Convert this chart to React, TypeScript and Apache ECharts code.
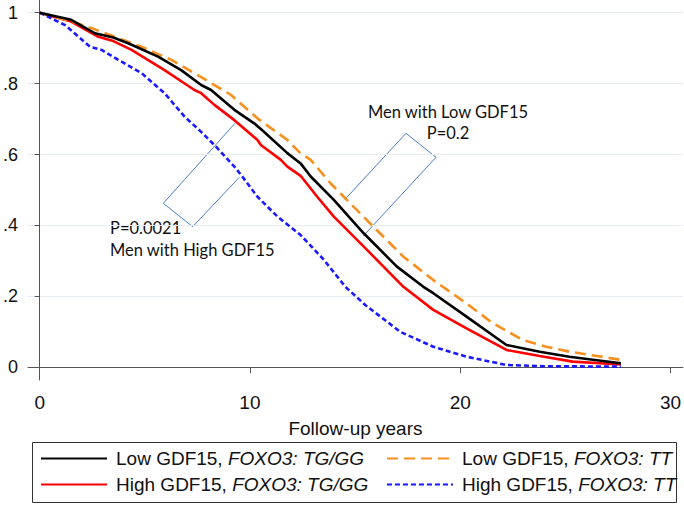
import React, { useEffect, useRef } from "react";
import * as echarts from "echarts";

// Follow-up years (x) and survival probability (y)
const blackT = [0, 1.5, 2.63, 3.5, 4.21, 5.63, 6.73, 7.68, 8.15, 9.26, 10.2, 10.52, 11.78, 12.41, 12.89, 13.99, 15.41, 16.99, 18.25, 18.72, 20.3, 22.2, 23.78, 25.19, 26.5, 27.64];
const blackS = [1, 0.98, 0.942, 0.93, 0.914, 0.876, 0.838, 0.796, 0.782, 0.726, 0.688, 0.672, 0.604, 0.575, 0.538, 0.472, 0.378, 0.284, 0.227, 0.209, 0.143, 0.063, 0.044, 0.03, 0.02, 0.011];

const redT = [0, 1.5, 2.79, 3.5, 4.37, 5.94, 7.36, 7.68, 8.31, 9.26, 10.36, 10.52, 11.47, 11.78, 12.41, 13.2, 13.99, 15.57, 17.3, 18.72, 20.3, 22.2, 23.78, 25.35, 27.64];
const redS = [1, 0.975, 0.932, 0.92, 0.895, 0.838, 0.782, 0.773, 0.74, 0.697, 0.641, 0.627, 0.585, 0.566, 0.54, 0.481, 0.425, 0.331, 0.227, 0.162, 0.11, 0.049, 0.032, 0.016, 0.008];

const orangeT = [0, 1.53, 2.48, 3.58, 4.84, 6.26, 7.52, 9.1, 10.36, 11.78, 12.41, 12.89, 13.83, 14.46, 15.88, 17.3, 18.72, 20.3, 21.56, 22.98, 24.09, 25.19, 26.5, 27.64];
const orangeS = [1, 0.975, 0.956, 0.932, 0.904, 0.867, 0.824, 0.768, 0.702, 0.641, 0.603, 0.585, 0.519, 0.481, 0.396, 0.312, 0.246, 0.18, 0.124, 0.077, 0.058, 0.044, 0.032, 0.021];

const blueT = [0, 1.21, 2.39, 2.95, 3.74, 4.86, 5.94, 6.89, 7.68, 8.39, 9.26, 9.57, 10.36, 11.31, 12.41, 13.52, 14.54, 15.5, 17.15, 18.72, 20.3, 22.2, 24, 27.64];
const blueS = [1, 0.965, 0.904, 0.895, 0.867, 0.829, 0.773, 0.707, 0.664, 0.622, 0.566, 0.543, 0.481, 0.425, 0.373, 0.303, 0.227, 0.175, 0.1, 0.058, 0.03, 0.0065, 0.003, 0.002];

const seriesNames = [
  "Low GDF15, FOXO3: TG/GG",
  "High GDF15, FOXO3: TG/GG",
  "Low GDF15, FOXO3: TT",
  "High GDF15, FOXO3: TT",
];

const xTicks = [0, 10, 20, 30];
const yTicks = [0, 0.2, 0.4, 0.6, 0.8, 1];
const xTitle = "Follow-up years";

const annotLeft = ["P=0.0021", "Men with High GDF15"];
const annotRight = ["Men with Low GDF15", "P=0.2"];

const zip = (t: number[], s: number[]) => t.map((v, i) => [v, s[i]]);

const AXIS_FONT = "'Liberation Sans', Arial, sans-serif";
const NOTE_FONT = "Lato, 'Open Sans', sans-serif";

export default function App() {
  const ref = useRef<HTMLDivElement>(null);
  useEffect(() => {
    if (!ref.current) return;
    const chart = echarts.init(ref.current, undefined, { renderer: "svg" });
    const legendFmt = (name: string) => {
      const idx = name.indexOf(", ");
      return `{n|${name.slice(0, idx + 2)}}{i|${name.slice(idx + 2)}}`;
    };
    const legendText = {
      color: "#111",
      rich: {
        n: { fontSize: 19, lineHeight: 20, fontFamily: AXIS_FONT, color: "#111", padding: [0, 0, 0, 4] },
        i: { fontSize: 19, lineHeight: 20, fontFamily: AXIS_FONT, fontStyle: "italic", color: "#111" },
      },
    };
    const legendBase = {
      orient: "vertical",
      top: 449,
      height: 56,
      padding: 0,
      itemWidth: 66,
      itemHeight: 14,
      itemGap: 7,
      formatter: legendFmt,
      textStyle: legendText,
      itemStyle: { opacity: 0 },
    };
    const calloutStyle = { stroke: "#4a7fc1", lineWidth: 1, fill: null };
    chart.setOption({
      animation: false,
      backgroundColor: "#ffffff",
      grid: { left: 26, right: 0, top: 0, bottom: 125, containLabel: false },
      xAxis: {
        type: "value",
        min: -0.554,
        max: 30.59,
        name: xTitle,
        nameLocation: "middle",
        nameGap: 39,
        nameTextStyle: { fontSize: 19, fontFamily: AXIS_FONT, color: "#111" },
        axisLine: { show: true, lineStyle: { color: "#555", width: 1 } },
        axisTick: { show: true, customValues: xTicks, length: 6, lineStyle: { color: "#555" } },
        axisLabel: { customValues: xTicks, fontSize: 19, fontFamily: AXIS_FONT, color: "#111", margin: 13 },
        splitLine: { show: false },
      },
      yAxis: {
        type: "value",
        min: -0.0358,
        max: 1.0358,
        axisLine: { show: true, lineStyle: { color: "#555", width: 1 } },
        axisTick: { show: true, customValues: yTicks, length: 5, lineStyle: { color: "#555" } },
        axisLabel: {
          customValues: yTicks,
          fontSize: 18,
          fontFamily: AXIS_FONT,
          color: "#111",
          margin: 10,
          formatter: (v: number) => (v === 0 ? "0" : v === 1 ? "1" : String(Math.round(v * 10) / 10).replace("0.", ".")),
        },
        splitLine: { show: true, lineStyle: { color: "#e6edf2", width: 1 } },
      },
      legend: [
        { ...legendBase, left: 40, data: [seriesNames[0], seriesNames[1]] },
        { ...legendBase, left: 386, data: [seriesNames[2], seriesNames[3]] },
      ],
      graphic: [
        { type: "rect", shape: { x: 32.5, y: 442.5, width: 644, height: 60 }, style: { stroke: "#333", lineWidth: 1, fill: null }, silent: true },
        { type: "polyline", shape: { points: [[235, 123.3], [163.3, 203.3], [192.7, 226.7], [239.3, 177.3]] }, style: calloutStyle, silent: true },
        { type: "polyline", shape: { points: [[345, 199.3], [406, 133.3], [436, 157.3], [363.3, 236]] }, style: calloutStyle, silent: true },
        { type: "text", x: 110, y: 236.7, style: { text: annotLeft[0], font: `16.5px ${NOTE_FONT}`, fill: "#111", textVerticalAlign: "bottom" } as any },
        { type: "text", x: 110, y: 258.3, style: { text: annotLeft[1], font: `16.5px ${NOTE_FONT}`, fill: "#111", textVerticalAlign: "bottom" } as any },
        { type: "text", x: 448, y: 120, style: { text: annotRight[0], font: `16.5px ${NOTE_FONT}`, fill: "#111", textAlign: "center", textVerticalAlign: "bottom" } as any },
        { type: "text", x: 448, y: 141, style: { text: annotRight[1], font: `16.5px ${NOTE_FONT}`, fill: "#111", textAlign: "center", textVerticalAlign: "bottom" } as any },
      ],
      series: [
        {
          name: seriesNames[0], type: "line", data: zip(blackT, blackS), symbol: "none", z: 4,
          lineStyle: { color: "#000000", width: 2.6 }, itemStyle: { color: "#000000" },
        },
        {
          name: seriesNames[1], type: "line", data: zip(redT, redS), symbol: "none", z: 3,
          lineStyle: { color: "#ff0000", width: 2.6 }, itemStyle: { color: "#ff0000" },
        },
        {
          name: seriesNames[2], type: "line", data: zip(orangeT, orangeS), symbol: "none", z: 3,
          lineStyle: { color: "#f7901e", width: 2.6, type: [11, 6] }, itemStyle: { color: "#f7901e" },
        },
        {
          name: seriesNames[3], type: "line", data: zip(blueT, blueS), symbol: "none", z: 3,
          lineStyle: { color: "#1a1aff", width: 2.6, type: [5, 3] }, itemStyle: { color: "#1a1aff" },
        },
      ],
    });
    return () => chart.dispose();
  }, []);
  return <div ref={ref} style={{ position: "fixed", left: 0, top: 0, width: 684, height: 505 }} />;
}
